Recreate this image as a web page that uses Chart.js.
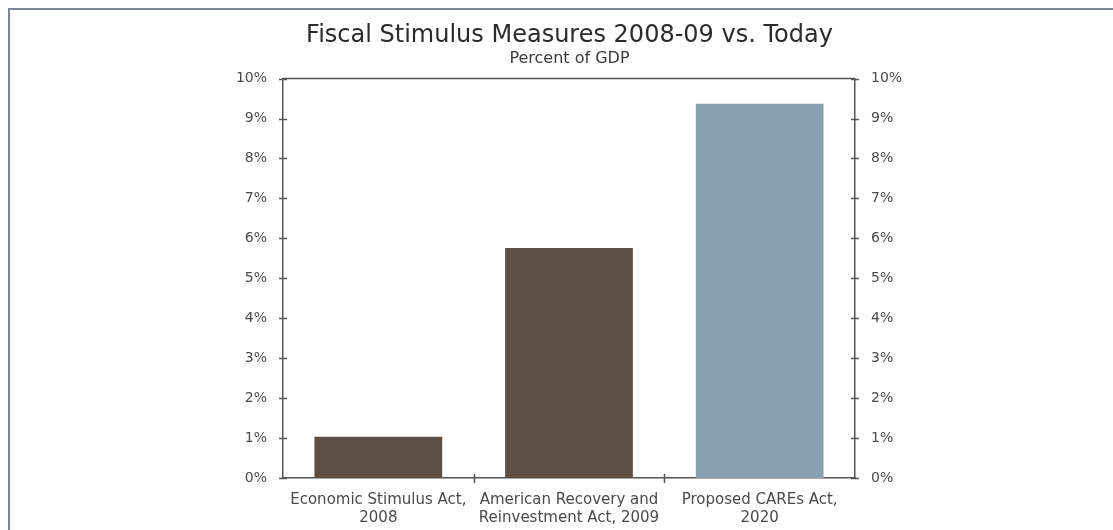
<!DOCTYPE html>
<html>
<head>
<meta charset="utf-8">
<script src="https://cdn.jsdelivr.net/npm/chart.js@4/dist/chart.umd.min.js"></script>
<style>
  html, body { margin: 0; padding: 0; background: #fff; }
  #wrap { width: 1113px; height: 530px; }
</style>
</head>
<body>
<div id="wrap"><canvas id="chart"></canvas></div>
<script>
// data
const categories = [
  ['Economic Stimulus Act,', '2008'],
  ['American Recovery and', 'Reinvestment Act, 2009'],
  ['Proposed CAREs Act,', '2020']
];
const pctOfGdp = [1.03, 5.76, 9.37];
const barColors = ['#5d4f43', '#5d4f43', '#88a1b2'];
const tickValues = [0, 1, 2, 3, 4, 5, 6, 7, 8, 9, 10];

const axisColor = '#555';
const textColor = '#4a4a4a';
const font = "'DejaVu Sans', sans-serif";

// frame, top line, and ticks that cross the axes
const decorations = {
  id: 'decorations',
  beforeDraw(chart) {
    const ctx = chart.ctx;
    ctx.save();
    ctx.strokeStyle = '#80869a';
    ctx.lineWidth = 2;
    ctx.strokeRect(9, 9, chart.width + 20, chart.height + 20);
    ctx.restore();
  },
  afterDatasetsDraw(chart) {
    const ctx = chart.ctx;
    const { left, right, top, bottom } = chart.chartArea;
    ctx.save();
    ctx.strokeStyle = axisColor;
    ctx.lineWidth = 1.5;
    ctx.beginPath();
    ctx.moveTo(left, top);
    ctx.lineTo(right, top);
    ['y', 'y1'].forEach(id => {
      const s = chart.scales[id];
      const ax = id === 'y' ? left : right;
      tickValues.forEach(v => {
        const py = Math.round(s.getPixelForValue(v)) + 0.5;
        ctx.moveTo(ax - 4, py);
        ctx.lineTo(ax + 4, py);
      });
    });
    const xs = chart.scales.x;
    for (let i = 0; i < categories.length - 1; i++) {
      const px = Math.round((xs.getPixelForValue(i) + xs.getPixelForValue(i + 1)) / 2) + 0.5;
      ctx.moveTo(px, bottom - 4);
      ctx.lineTo(px, bottom + 5);
    }
    ctx.stroke();
    ctx.restore();
  }
};

new Chart(document.getElementById('chart'), {
  type: 'bar',
  data: {
    labels: categories,
    datasets: [{
      data: pctOfGdp,
      backgroundColor: barColors,
      barPercentage: 0.67,
      categoryPercentage: 1.0
    }]
  },
  options: {
    responsive: true,
    maintainAspectRatio: false,
    animation: false,
    // left padding keeps the titles centred over the plot
    layout: { padding: { left: 26, right: 0, top: 0, bottom: 0 } },
    plugins: {
      legend: { display: false },
      tooltip: { enabled: false },
      title: {
        display: true,
        text: 'Fiscal Stimulus Measures 2008-09 vs. Today',
        color: '#2b2b2b',
        font: { family: font, size: 24, weight: 'normal', lineHeight: 1.1 },
        padding: { top: 23, bottom: 0 }
      },
      subtitle: {
        display: true,
        text: 'Percent of GDP',
        color: '#3a3a3a',
        font: { family: font, size: 16, lineHeight: 1.2 },
        padding: { top: 0, bottom: 10 }
      }
    },
    scales: {
      x: {
        grid: { display: false },
        border: { display: true, color: axisColor, width: 1.5 },
        ticks: {
          color: textColor,
          font: { family: font, size: 15, lineHeight: '18px' },
          padding: 5,
          maxRotation: 0,
          autoSkip: false
        },
        afterFit(scale) { scale.height = 52; }
      },
      y: {
        position: 'left',
        min: 0,
        max: 10,
        grid: { display: false },
        border: { display: true, color: axisColor, width: 1.5 },
        ticks: {
          stepSize: 1,
          color: textColor,
          font: { family: font, size: 14 },
          padding: 8,
          callback: v => v + '%'
        },
        afterFit(scale) { scale.width = 257; }
      },
      y1: {
        position: 'right',
        min: 0,
        max: 10,
        grid: { display: false },
        border: { display: true, color: axisColor, width: 1.5 },
        ticks: {
          stepSize: 1,
          color: textColor,
          font: { family: font, size: 14 },
          padding: 8,
          callback: v => v + '%'
        },
        afterFit(scale) { scale.width = 258; }
      }
    }
  },
  plugins: [decorations]
});
</script>
</body>
</html>
